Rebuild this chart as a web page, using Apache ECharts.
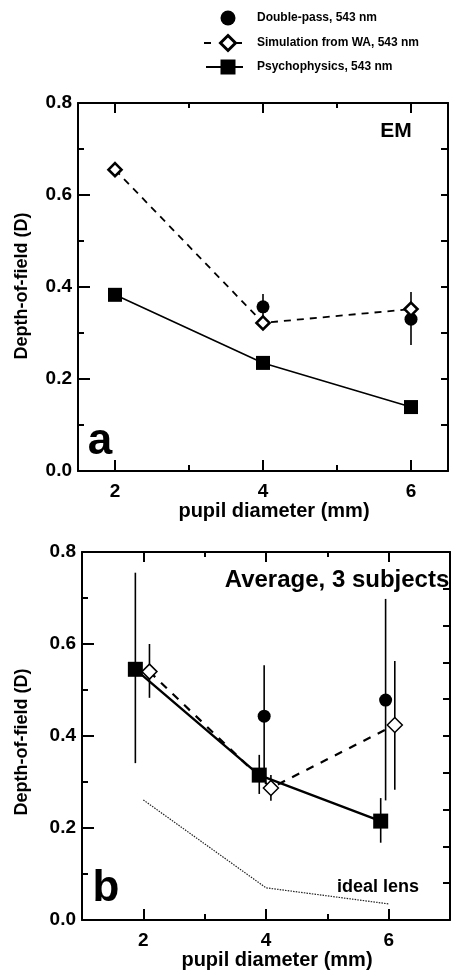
<!DOCTYPE html>
<html>
<head>
<meta charset="utf-8">
<script src="https://cdn.jsdelivr.net/npm/echarts@6/dist/echarts.min.js"></script>
<style>html,body{margin:0;padding:0;background:#fff}#c{width:454px;height:971px}</style>
</head>
<body>
<div id="c"></div>
<script>
// ---- data ----
const legendNames = ['Double-pass, 543 nm', 'Simulation from WA, 543 nm', 'Psychophysics, 543 nm'];
const xTicksMajor = [2, 4, 6];
const xTicksMinor = [3, 5];
const yTitle = 'Depth-of-field (D)';
const xTitle = 'pupil diameter (mm)';

// panel a (EM)
const pupilA = [2, 4, 6];
const simA = [0.655, 0.322, 0.352];
const psyA = [0.383, 0.235, 0.139];
const dpAx = [4, 6];
const dpA = [0.357, 0.330];
const dpAlow = [0.329, 0.274];
const dpAhigh = [0.385, 0.389];

// panel b (average)
const psyBx = [1.87, 3.89, 5.87];
const psyB = [0.545, 0.315, 0.215];
const psyBlow = [0.341, 0.274, 0.168];
const psyBhigh = [0.755, 0.359, 0.265];
const simBx = [2.1, 4.08, 6.1];
const simB = [0.54, 0.287, 0.424];
const simBlow = [0.483, 0.259, 0.283];
const simBhigh = [0.600, 0.315, 0.563];
const dpBx = [3.97, 5.95];
const dpB = [0.443, 0.478];
const dpBlow = [0.304, 0.260];
const dpBhigh = [0.554, 0.698];
const idealX = [2, 4, 6];
const idealY = [0.261, 0.070, 0.035];

// ---- helpers ----
const FF = "'Liberation Sans', Arial, Helvetica, sans-serif";
const zip = (a, b) => a.map((v, i) => [v, b[i]]);
const zip3 = (a, b, c) => a.map((v, i) => [v, b[i], c[i]]);

function errSeries(xi, yi, data, w) {
  return {
    type: 'custom', xAxisIndex: xi, yAxisIndex: yi, z: 1, silent: true,
    data: data, encode: { x: 0, y: [1, 2] },
    renderItem: function (params, api) {
      const p1 = api.coord([api.value(0), api.value(1)]);
      const p2 = api.coord([api.value(0), api.value(2)]);
      return { type: 'line', shape: { x1: p1[0], y1: p1[1], x2: p2[0], y2: p2[1] },
        style: { stroke: '#000', lineWidth: w } };
    }
  };
}

function xAxes(grid, min, max) {
  const base = { type: 'value', gridIndex: grid, min: min, max: max, splitLine: { show: false } };
  return [
    Object.assign({}, base, { position: 'bottom',
      axisLine: { show: true, lineStyle: { color: '#000', width: 2 } },
      axisTick: { show: true, inside: true, length: 11, customValues: xTicksMajor, lineStyle: { color: '#000', width: 2 } },
      axisLabel: { show: true, customValues: xTicksMajor, margin: 11, color: '#000', fontSize: 19, fontWeight: 'bold', fontFamily: FF } }),
    Object.assign({}, base, { position: 'bottom',
      axisLine: { show: false },
      axisTick: { show: true, inside: true, length: 6, customValues: xTicksMinor, lineStyle: { color: '#000', width: 2 } },
      axisLabel: { show: false } }),
    Object.assign({}, base, { position: 'top',
      axisLine: { show: true, lineStyle: { color: '#000', width: 2 } },
      axisTick: { show: true, inside: true, length: 10, customValues: xTicksMajor, lineStyle: { color: '#000', width: 2 } },
      axisLabel: { show: false } }),
    Object.assign({}, base, { position: 'top',
      axisLine: { show: false },
      axisTick: { show: true, inside: true, length: 5, customValues: xTicksMinor, lineStyle: { color: '#000', width: 2 } },
      axisLabel: { show: false } })
  ];
}

function yAxes(grid, rightInterval) {
  return [
    { type: 'value', gridIndex: grid, position: 'left', min: 0, max: 0.8, interval: 0.2,
      splitLine: { show: false },
      axisLine: { show: true, lineStyle: { color: '#000', width: 2 } },
      axisTick: { show: true, inside: true, length: 12, lineStyle: { color: '#000', width: 2 } },
      minorTick: { show: true, splitNumber: 2, length: 6, lineStyle: { color: '#000', width: 2 } },
      minorSplitLine: { show: false },
      axisLabel: { show: true, margin: 6, color: '#000', fontSize: 19, fontWeight: 'bold', fontFamily: FF,
        padding: [8, 0, 0, 0], formatter: v => v.toFixed(1) } },
    { type: 'value', gridIndex: grid, position: 'right', min: 0, max: 0.8, interval: rightInterval,
      splitLine: { show: false },
      axisLine: { show: true, lineStyle: { color: '#000', width: 2 } },
      axisTick: { show: true, inside: true, length: 7, lineStyle: { color: '#000', width: 2 } },
      axisLabel: { show: false } }
  ];
}

function txt(x, y, text, size, extra) {
  return Object.assign({ type: 'text', x: x, y: y, z: 100,
    style: { text: text, fill: '#000', fontSize: size, fontWeight: 'bold', fontFamily: FF,
      align: 'center', verticalAlign: 'middle' } }, extra || {});
}

const lx = 228;
const ly = [18, 43, 67];
const graphic = [
  { type: 'circle', shape: { cx: lx, cy: ly[0], r: 7.5 }, style: { fill: '#000' } },
  { type: 'line', shape: { x1: 204, y1: ly[1], x2: 211, y2: ly[1] }, style: { stroke: '#000', lineWidth: 2 } },
  { type: 'line', shape: { x1: 236, y1: ly[1], x2: 242, y2: ly[1] }, style: { stroke: '#000', lineWidth: 2 } },
  { type: 'polygon', shape: { points: [[lx, ly[1] - 7.5], [lx + 7.5, ly[1]], [lx, ly[1] + 7.5], [lx - 7.5, ly[1]]] },
    style: { fill: '#fff', stroke: '#000', lineWidth: 3 } },
  { type: 'line', shape: { x1: 206, y1: ly[2], x2: 243, y2: ly[2] }, style: { stroke: '#000', lineWidth: 2 } },
  { type: 'rect', shape: { x: lx - 7.5, y: ly[2] - 7.5, width: 15, height: 15 }, style: { fill: '#000' } },
  txt(257, ly[0], legendNames[0], 12, {}),
  txt(257, ly[1], legendNames[1], 12, {}),
  txt(257, ly[2], legendNames[2], 12, {}),
  txt(396, 131, 'EM', 21),
  txt(100, 442, 'a', 44),
  txt(22, 286, yTitle, 18, { rotation: Math.PI / 2 }),
  txt(274, 511, xTitle, 20),
  txt(337, 580, 'Average, 3 subjects', 24),
  txt(106, 889, 'b', 44),
  txt(378, 887, 'ideal lens', 18),
  txt(22, 742, yTitle, 18, { rotation: Math.PI / 2 }),
  txt(277, 960, xTitle, 20)
];
graphic.slice(6, 9).forEach(g => { g.style.align = 'left'; });

const option = {
  animation: false,
  backgroundColor: '#fff',
  grid: [
    { left: 78, top: 103, width: 370, height: 368 },
    { left: 82, top: 552, width: 368, height: 368 }
  ],
  xAxis: [].concat(xAxes(0, 1.5, 6.5), xAxes(1, 1, 7)),
  yAxis: [].concat(yAxes(0, 0.1), yAxes(1, 0.08)),
  graphic: graphic,
  series: [
    // panel a
    errSeries(0, 0, zip3(dpAx, dpAlow, dpAhigh), 1.6),
    { name: legendNames[2], type: 'line', xAxisIndex: 0, yAxisIndex: 0, z: 2, data: zip(pupilA, psyA),
      symbol: 'rect', symbolSize: 14, itemStyle: { color: '#000' },
      lineStyle: { color: '#000', width: 1.6 } },
    { name: legendNames[0], type: 'scatter', xAxisIndex: 0, yAxisIndex: 0, z: 3, data: zip(dpAx, dpA),
      symbol: 'circle', symbolSize: 13, itemStyle: { color: '#000', opacity: 1 } },
    { name: legendNames[1], type: 'line', xAxisIndex: 0, yAxisIndex: 0, z: 4, data: zip(pupilA, simA),
      symbol: 'diamond', symbolSize: 13, itemStyle: { color: '#fff', borderColor: '#000', borderWidth: 2.6 },
      lineStyle: { color: '#000', width: 1.8, type: [7, 6] } },
    // panel b
    { name: 'ideal lens', type: 'line', xAxisIndex: 4, yAxisIndex: 2, z: 1, data: zip(idealX, idealY),
      symbol: 'none', lineStyle: { color: '#222', width: 1.2, type: [1.5, 1.2] } },
    errSeries(4, 2, zip3(psyBx, psyBlow, psyBhigh), 1.6),
    errSeries(4, 2, zip3(simBx, simBlow, simBhigh), 1.6),
    errSeries(4, 2, zip3(dpBx, dpBlow, dpBhigh), 1.6),
    { name: legendNames[1], type: 'line', xAxisIndex: 4, yAxisIndex: 2, z: 2, data: zip(simBx, simB),
      symbol: 'diamond', symbolSize: 15, itemStyle: { color: '#fff', borderColor: '#000', borderWidth: 1.5 },
      lineStyle: { color: '#000', width: 2.2, type: [8, 8] } },
    { name: legendNames[2], type: 'line', xAxisIndex: 4, yAxisIndex: 2, z: 3, data: zip(psyBx, psyB),
      symbol: 'rect', symbolSize: 15, itemStyle: { color: '#000' },
      lineStyle: { color: '#000', width: 2.4 } },
    { name: legendNames[0], type: 'scatter', xAxisIndex: 4, yAxisIndex: 2, z: 4, data: zip(dpBx, dpB),
      symbol: 'circle', symbolSize: 13, itemStyle: { color: '#000', opacity: 1 } }
  ]
};

const chart = echarts.init(document.getElementById('c'), null, { renderer: 'canvas' });
chart.setOption(option);
</script>
</body>
</html>
